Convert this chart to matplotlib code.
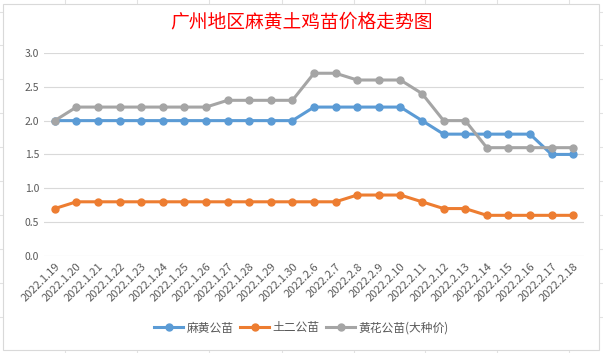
import matplotlib
matplotlib.use('Agg')
import matplotlib.pyplot as plt
from matplotlib.patches import Rectangle
from matplotlib.lines import Line2D

plt.rcParams['font.family'] = ['Noto Sans CJK SC', 'DejaVu Sans']

dates = ['2022.1.19', '2022.1.20', '2022.1.21', '2022.1.22', '2022.1.23', '2022.1.24',
         '2022.1.25', '2022.1.26', '2022.1.27', '2022.1.28', '2022.1.29', '2022.1.30',
         '2022.2.6', '2022.2.7', '2022.2.8', '2022.2.9', '2022.2.10', '2022.2.11',
         '2022.2.12', '2022.2.13', '2022.2.14', '2022.2.15', '2022.2.16', '2022.2.17',
         '2022.2.18']
mahuang = [2.0, 2.0, 2.0, 2.0, 2.0, 2.0, 2.0, 2.0, 2.0, 2.0, 2.0, 2.0,
           2.2, 2.2, 2.2, 2.2, 2.2, 2.0, 1.8, 1.8, 1.8, 1.8, 1.8, 1.5, 1.5]
tuer = [0.7, 0.8, 0.8, 0.8, 0.8, 0.8, 0.8, 0.8, 0.8, 0.8, 0.8, 0.8,
        0.8, 0.8, 0.9, 0.9, 0.9, 0.8, 0.7, 0.7, 0.6, 0.6, 0.6, 0.6, 0.6]
huanghua = [2.0, 2.2, 2.2, 2.2, 2.2, 2.2, 2.2, 2.2, 2.3, 2.3, 2.3, 2.3,
            2.7, 2.7, 2.6, 2.6, 2.6, 2.4, 2.0, 2.0, 1.6, 1.6, 1.6, 1.6, 1.6]
series_names = ['麻黄公苗', '土二公苗', '黄花公苗(大种价)']
colors = ['#5B9BD5', '#ED7D31', '#A5A5A5']

fig = plt.figure(figsize=(6.03, 3.53), dpi=100)
fig.patch.set_facecolor('white')

# spreadsheet cell lines behind the chart
for xv in [65, 137, 209, 282, 354, 425, 497, 569]:
    fig.add_artist(Line2D([xv / 603, xv / 603], [0, 1], color='#E2E2E2', lw=0.8, zorder=-2))
for yv in [12, 45, 79, 113, 147, 181, 215, 249, 283, 317]:
    fig.add_artist(Line2D([0, 1], [1 - yv / 353, 1 - yv / 353], color='#E2E2E2', lw=0.8, zorder=-2))
# chart area
fig.add_artist(Rectangle((3 / 603, 3 / 353), 596 / 603, 346 / 353, transform=fig.transFigure,
                         facecolor='white', edgecolor='#D9D9D9', lw=0.8, zorder=-1))

ax = fig.add_axes([0.073, 0.275, 0.8955, 0.575])
ax.set_zorder(1)
ax.set_facecolor('none')
x = list(range(len(dates)))
for vals, name, c in zip([mahuang, tuer, huanghua], series_names, colors):
    ax.plot(x, vals, color=c, lw=2.2, marker='o', markersize=5, label=name, zorder=3)

ax.set_xlim(-0.5, len(dates) - 0.5)
ax.set_ylim(0, 3.0)
ax.set_yticks([0, 0.5, 1.0, 1.5, 2.0, 2.5, 3.0])
ax.set_yticklabels([f'{v:.1f}' for v in [0, 0.5, 1.0, 1.5, 2.0, 2.5, 3.0]])
ax.set_xticks(x)
ax.set_xticklabels(dates, rotation=45, ha='right', rotation_mode='anchor')
ax.tick_params(axis='both', length=0, colors='#595959', labelsize=7.5)
ax.tick_params(axis='x', pad=4, labelsize=8)
ax.grid(axis='y', color='#D9D9D9', lw=0.8)
ax.set_axisbelow(True)
for s in ax.spines.values():
    s.set_visible(False)

fig.text(0.5, 1 - 22 / 353, '广州地区麻黄土鸡苗价格走势图', ha='center', va='center',
         color='#FF0000', fontsize=13.5)

ax.legend(loc='center', bbox_to_anchor=(0.5, 1 - 328 / 353), bbox_transform=fig.transFigure,
          ncol=3, frameon=False, fontsize=8.5, labelcolor='#595959',
          handlelength=2.4, columnspacing=0.6, handletextpad=0.3)

fig.savefig('out.png', dpi=100)
